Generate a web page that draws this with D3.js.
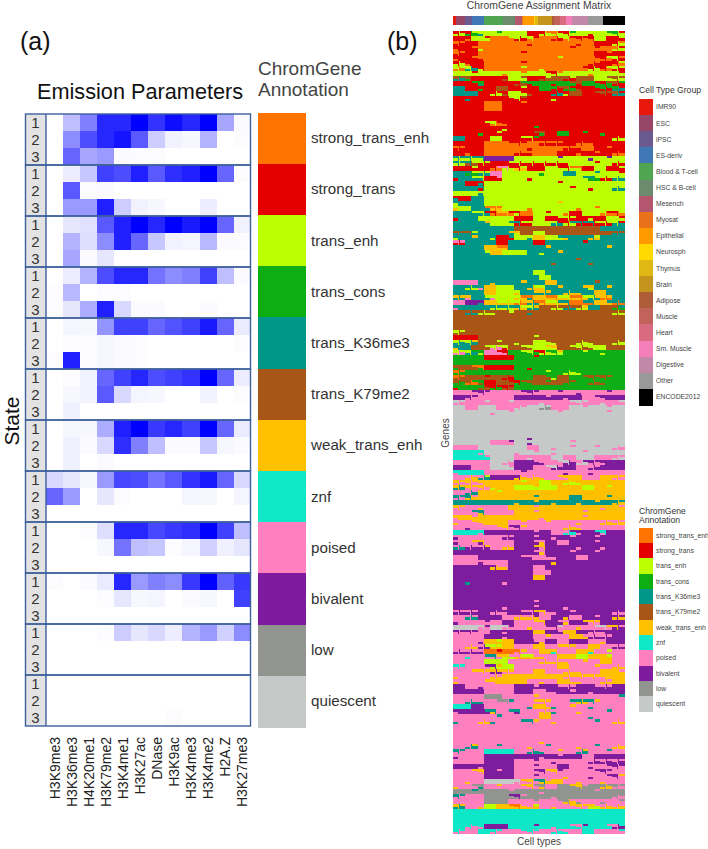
<!DOCTYPE html>
<html><head><meta charset="utf-8">
<script src="https://cdn.jsdelivr.net/npm/d3@7"></script>
<style>html,body{margin:0;padding:0;background:#fff}svg{display:block}text{font-family:"Liberation Sans",Arial,sans-serif}</style>
</head><body><div id="c"></div>
<script>
const marks=["H3K9me3","H3K36me3","H4K20me1","H3K79me2","H3K4me1","H3K27ac","DNase","H3K9ac","H3K4me3","H3K4me2","H2A.Z","H3K27me3"];
const annotations=["strong_trans_enh","strong_trans","trans_enh","trans_cons","trans_K36me3","trans_K79me2","weak_trans_enh","znf","poised","bivalent","low","quiescent"];
const annotationColors=["#ff7400","#e50000","#bcff00","#0cae12","#009688","#a85518","#ffc000","#10e8c8","#ff7fbf","#7d1a9d","#929490","#c5c9c8"];
const cellGroups=["IMR90","ESC","iPSC","ES-deriv","Blood & T-cell","HSC & B-cell","Mesench","Myosat","Epithelial","Neurosph","Thymus","Brain","Adipose","Muscle","Heart","Sm. Muscle","Digestive","Other","ENCODE2012"];
const cellColors=["#e8180c","#984668","#6a5a8f","#3f78b5","#50a552","#6b8a6e","#b5566f","#e8711a","#ff9b00","#ffd900","#dfb814","#c4941d","#af5c38","#c1635a","#d96b80","#f47fb8","#c288a8","#999999","#000000"];
const cellGroupCounts=[2,7,5,9,14,9,5,1,8,1,2,10,2,4,5,4,12,11,16];
const emission=[
[0,.25,.5,.85,.85,1,.8,.95,.85,1,.35,.02],[0,.45,.7,.85,.92,.65,.2,.05,.03,.3,0,.01],[0,.6,.35,.4,.02,.01,.01,0,0,0,0,0],
[0,.07,.22,.75,.7,.88,.65,.82,.88,1,.6,.01],[0,.65,.01,.02,0,0,0,0,0,0,0,0],[0,.4,.4,.88,.2,.05,.03,0,0,.07,0,0],
[0,.1,.12,.65,.88,1,.85,1,.9,1,.6,.05],[0,.3,.13,.45,.88,.6,.22,.05,.04,.28,.02,.01],[0,.35,.02,.1,0,0,0,0,0,0,0,0],
[0,.07,.3,.7,.85,.85,.55,.45,.5,.75,.25,.02],[.01,.28,0,.01,.01,0,0,0,0,0,0,0],[.01,.1,.32,.88,.15,.02,.02,0,0,.02,0,0],
[0,.04,.03,.42,.75,.75,.6,.68,.75,.9,.6,.08],[0,.01,.01,.03,.02,.01,0,0,0,0,0,.01],[.01,.88,.01,.03,.02,.01,0,0,0,0,0,0],
[0,.01,.05,.6,.75,.85,.7,.75,.8,1,.6,.07],[0,.03,.05,.65,.15,.04,.03,0,0,.05,0,.01],[0,.06,0,0,0,0,0,0,0,0,0,0],
[0,.03,.03,.32,.88,1,.78,.85,.75,1,.6,.08],[0,.06,.02,.15,.82,.5,.25,.02,.02,.22,.03,.02],[0,.06,0,.02,0,0,0,0,0,0,0,0],
[.15,.1,.03,.4,.72,.7,.55,.65,.8,.9,.6,.15],[.6,.4,0,.1,.01,0,0,0,.04,.03,0,.04],[0,0,0,0,0,0,0,0,0,0,0,0],
[0,0,.01,.13,.85,.85,.72,.78,.82,1,.75,.25],[0,0,0,.03,.55,.25,.22,.01,.04,.18,.06,.1],[0,0,0,0,0,0,0,0,0,0,0,0],
[.01,0,.02,.08,.85,.4,.5,.45,.78,1,.62,.78],[0,0,0,.01,.1,.03,.04,0,.02,.03,0,.75],[0,0,0,0,0,0,0,0,0,0,0,0],
[0,0,0,.01,.2,.1,.15,.07,.3,.4,.18,.45],[0,0,0,0,0,0,0,0,0,0,0,0],[0,0,0,0,0,0,0,0,0,0,0,0],
[0,0,0,0,0,0,0,0,0,0,0,0],[0,0,0,0,0,0,0,0,0,0,0,0],[0,0,0,0,0,0,0,.01,0,0,0,0]];
const stateCodes="ABCDEFGHIJKL";
const assignment=[
"CBDCECCDCCCCBBCACBCDCCBCCDCB","BBACCBAAACBCABAABCABABACCBBC","BABBAAAAAAAABAAAAAAABAABBBCA","ABBACAAAAAAAAAAAAAABAAABAACB",
"BABBAAAAAAABAAAAAAAAAAABBABB","ABBABAAAAAAAAAAAACAAAAABACBA","CBABBAAAAAABAAAAAAAAAABABBAC","ACEBCAAAAAACAACAAAAAABCBACBC",
"CCCBCCCCACCACCCBCACCCCACCCCB","EFDBBBBBFCCFBBFCFFBCFFFCCFCF","BBBDEBBBBBFDBDDDBDDFBDDBDFBD","EEBBDBBFFBBCBBDDBFDBFBBDBDEB",
"EEEEBBCBFCCBFBBBEBCFFBBFBFEB","BBEBBBBBBCBFBBBBCBBBBBBBBBBB","BBBBBAAABBBABBBBBBBBBBBBBBBB","BBBBBAAABBBBBBBBBBBBBBBBBBBB",
"BBBBBBBBBBBBBBBBBBBBBBBBBBBB","BBBBBBBBBBBBBBBBBBBBBBBBBBBB","BBBBBCABABBBBBBBBBBBBBBBBBBB","BBBBBBBBCBBBBDBBBBBBBBBBBBBB",
"BBBBDBBCBBBBBFDBBDDBBDBBDBBB","EEBBBBCCBBBCBDBBBBBBBBBBBBCB","BBBBBAAAABABAABABABBABABBBBB","BABBBAAAAAAABAAAAABABAABBABB",
"BBABBAAAAABABAAAABBBABBABBAB","CECECJJJJJCCCCCCCJCCCCJCCJCC","CEFCBCBBBCBCBCBCBCBCCCCBCCBC","BBBCBBAICBGCBBBCCBCACBBCCBBC",
"EEDCECIICCCCCCDCCCEECCCECCCB","BEECEBBICCCCBCCCCCCCCEDCBCEC","EEBBECCCCCCCCCCCCBCCCCCCCCCC","EEEEBCCCCCCCCCCCCCCBCCBCCCEC",
"CCCCECCCCCCCCCCCCCCCCCCCCCCC","EBBEECCCCCCCCCCCCCCCCCCCCCCC","CEEEECCCCCCCCCCCCGCCCCCCCCCC","GCCEEAGACCCCACCCCCCCACCACCCC",
"EEECEBAGABCAACCBCCABBCCCABAC","BEEECCCCCCBBBCCBBCBCBBCBBCCB","EEEEEGCCCEBCBCCCEBCEBEBCBCEB","EEEEEEEEEEFFFFFFFFFFFFFFEEEE",
"EFECEEEEEGCFFCCFFFFFFFFFFFEF","CEEGEECBBECCEGGCCEGEEEGCEEEE","BIEEEEEBBEEEEBBEEEEEEBEEEEEE","EEEEEGGAGEEEEEEGEEEEEEEEEGEE",
"EEEEECGGCCCCEECEEGEEEEEEEEEE","EEEEEEEEEEEEEEEEEEEEFEEEEEEE","EEEEEEEEEEEEEEEEFEEEEEFEEEEE","EEEEEEEEEEEEEEEEEEEEEEEEEEEE",
"EEEEEEEEEEEEECCEEEEEEEEEEEEE","EEEEEEEEEEEEEECCEEEEEEEEEEEE","IIIIEEGEEEEGEEEGGEEEEEEFEEEE","EECEIGGCCCEEGCGEEGEEEGCEEGEE",
"EEEEEGGCCCGEEGEGEEGEGEEGGEEE","EGIEECICCCGAEGGAGCGAGCEGAGEE","IIJJEGGCGCAGEAGCGEGAAEAGGEAE","IEEEEECECEGCEGFFCFEFCGEEFFDE",
"FFEFCFCFFCFFEFFFFFFFFFFFFFCF","FFFFFFFFFFFFFFFFFFFFFFFFFFFF","FFFFFFFFFFFFFFFFFFFFFFFFFFFF","FFFFFFFFFFFFFFFFFFFFFFFFFFFF",
"FCFFFFFFFFFFFFFFFFFFFFFFFFFF","BBBBFFFFFFFFFCFFFFFFFFFFFFFF","ECEGFFFCFFCFFCCFCFFFCFCFFFCF","GEEFFCICBFFCFCCGCFFCFCFCCFFF",
"ICEDCIIBIDDCDBCDCGDDDCDDCDDD","DDDDDBBBBBDDDBDDDDDDDDDDDDDD","DDDDDDDDDDDDDDDDDDDDDDDDDDDD","DFFADBBBBBDDBDDDDDDDDDDDDDDD",
"DADDDDDDDDDDDDDCDDCDCDDDDDDD","FAFFFBFFBFDDDFFDCFFDDFDFDFDD","DFADFBBFFBDFDFFDFFDFDDFDFDDD","BDDDFBDBFBDDDDDDDDDDDDDDDDDD",
"IIIJIJIIIIIJIJIIIJIIJIIIIJII","JJIJIIIIIIJJJJJIJJIJJIIJIJJJ","ILIIILIIILIIIILIIIILILIILIIL","LLIILLLIIILILLKLIIILLILLLILL",
"LLLLLLILLILLLLLLLILLLLLLLILL","LLLLLLLLLLLLLLLLLLLLLLLLLLLL","LLLLLLLLLLLLLLLLLLLLLLLLLLLL","LLLLLLLLLLLLLLLLLLLLLLLLLLLL",
"LLLLLLLLLLLLLLLLLLLLLLLLLLLL","LLLLLLLLLLLLJLLLLLLLLLLLLLLL","LLLLLLIIIJLLJLLLLLLILLLLLLLL","IIIILLLLLLLLIILLILLILLLILLIL",
"HHHHILLLLLILLILLILLLLILLLLLL","HHHHHILLLLIILIIILLIILLLIIILI","IIIIIILLILJJJIJIILJILJIJIJJJ","JJJIIILLLIJJJIILJIJJIIJIJJJJ",
"IHHHHIIIIIIJIIIIIIJIIIJIIIII","IIGIECJJJJGIGIGIIGIGGIIIGGIG","IGIGIGGGGGGCGGCCGGCGCGGGGGGG","EGIGIGCGGGCCCGCCCGGGGCCGGCGG",
"IIEIGGGCGGGGGGGGGGGGGGGGGGGG","IEGIGGGGGGGGGEGGGGGEEGGGGEGG","EEEEEEEEEEGEEGEEGEEEGEEGEEGE","IGIIGIIIIGGGGIGGGGGGGGGGIGGI",
"IIIEGIIIIIGGGIGGGGGGGIGGGGGG","IGGIGGGGGGGGGGIGGGGGGIGGGGGG","GIIGIGGGGIIGIIIGIIIIGIIIGIGI","IIJIIIIGIJIGIIIIIIGIGIIIIIII",
"HHHHIJJJJJJJJIJJIIHJIJJHIJJJ","JIIIIIIIJIJJJIJJIJJIJJJIJJJJ","JIIGJIIIIIJJJIGJJIIJJJJIJJJJ","EIJIJGIIGIJJJGIJJJJJIJJJIJJJ",
"JJJJJJJJJJJJJIGJJJJIJJJIJJJJ","IIIIJJJJJJJIJIIJIJJJIIJJJJJJ","IIIIJIIIIJJJJJJJGJJJJJJJJJJJ","JJJJJJGIGJJJJIIJJJJJJJJJJJJJ",
"JJJJJJJJJJJJJIIIJJJJJJJJJJJJ","JJJJJJJJJJJJJGGJJJJJJJJJJJJJ","JJEJJJJJIJJJJJJJJJJJJJJJJJJJ","JJJJJJJJJJJJJJJJJJJJJJJJJJJJ",
"JJJJJJJJJJJJJJJJJJJJJJJJJJJJ","JJJJJJJJJJJJJJJJJJJJJJJJJJJJ","JJJJJJJJJJJJJIJJJJJJJJJJJJJJ","JJJJJJJJIJJJJIJJJJIJJJJJJJJJ",
"JIJIJJIJIJJIJGIJIJJIJJJJJJIJ","IIEIJJJJIIGIGJIIJJGIIJJIJJGJ","JIIIIJIIJJIIIGIJJIGJJGIGJJJJ","LLLLIJLLIJIIGIIJILIIGIILIGJI",
"IJIJIIJJIJJJJGGJJIGGJJIJIJJJ","IIIIIJJJIJJJJIIGIIIGGIJIJIJJ","IIIIJGGCGGJJJIGJJIIJJJIIGJJJ","IIGIJCGCGGIIIGGIIGIGIIGGIIJI",
"JIJIJAABAAIGIIGGHIIIGGHIICII","IIHIIEIGCIGCGIGIIGGGCCGGGCII","IIIIICCCCIIIIIGIGIGIIGIIGGII","IHIIIJCGCCIIIIIIIGGIIIIGIIGI",
"IIIGIGJGIGIIIGGIIIGIGIIIGGGI","GIIIIIGIGGGGGGGGGGIGIGIGIGGG","GIIIIGIGGGGGIIGIIGGIGIIIGIGG","JJIIJIIIIIJJJIJJJIJIJJJIJIJJ",
"JJJJJIIIIIJJJIIJIJJIJJIJJJJJ","IIIIIKKKIIIIIGIIIIIIIIIIIIIE","IIEIEIIKIEIIIGIGIIIEGEIGIIII","HHHJJIIIIIIIEGGIEIIGIIEIIIII",
"IJJJJEGIIEJIIIGIEIIIGIIIIEII","IIIIIIIEIIIIIIGGIIIIIIEIIIII","EIIIGIEIIIIEIGIIGIIIIIIEIIGI","IIIIIIIIIIIIIIIIIIIIIIIIIIII",
"IIIIIIIIIIIIIIIIIIIIIIIIIIII","IIIIIIIIIIIIIIIIIIIIIIIIIIII","IIIIIIIIIIIIIIGIIIIIIIIIIIII","IIEGIIIEIIIIGIIEIIIIGIIEIIGI",
"IEIIIHHHHHIIEIEIIGIIEGIIIEII","JIIIIJJJJJJJJJIJJIJJJIIJJJJJ","IIIIIJJJJJIIIJIIJIIIIIJIJIJI","JJJJIJJJJJIIIJIIIJJIIIJIIJIJ",
"IIIGIJJIJJIIIJIGIJIIIIIJIJII","IIIIIJJJJJIIIJIIIIGIIIJIIJIG","IIGIILLLLLIGIEGIGGIIGIIIGIII","GIIKEIIGIIIGIKGIIKKGKIKKGKIK",
"KKKEKKKKKIKKKKIKKKKKKKKIKKKK","IEIIIKKKKJKIKKKKIKKKKKKKKKIK","IIIIIKKKKIIIIKIIIKGIKIIIKIIK","EGIIGCCGGAGIGCIIGIIGIGCIGIGI",
"HHHHHHHHHHHHHHHHHHHHHHHHHHHH","HHHHHHHHHHHHHHHHHHHHHHHHHHHH","HHHHHHHHHHHHHHHHHHHHHHHHHHHH","HHIHIJJJJHHHHJHHIHHIHJHHHIJH",
"IHIIHHIHIIIHIHIIHIHIIHHIIIIH"];

const svg=d3.select("#c").append("svg").attr("width",708).attr("height",849);
const defs=svg.append("defs");
defs.append("filter").attr("id","soft").attr("x",0).attr("y",0).attr("width",1).attr("height",1)
  .append("feGaussianBlur").attr("stdDeviation",0.45);
const txt=(s,x,y,size,fill,anchor)=>svg.append("text").attr("x",x).attr("y",y).attr("font-size",size).attr("fill",fill||"#222").attr("text-anchor",anchor||"start").text(s);

// ---- panel (a)
txt("(a)",20,50,25,"#111");
txt("(b)",387,50,25,"#111");
txt("Emission Parameters",37,99,21.7,"#111");
txt("ChromGene",258,75,19,"#444");
txt("Annotation",258,96,19,"#444");
svg.append("text").attr("transform","translate(19,421) rotate(-90)").attr("font-size",21).attr("text-anchor","middle").attr("fill","#111").text("State");

const rowIdx=d3.range(emission.length);
const xE=d3.scaleBand().domain(marks).range([46,250.7]);
const yE=d3.scaleBand().domain(rowIdx).range([114,726]);
const blue=d3.scaleLinear().domain([0,1]).range(["#ffffff","#0000ff"]);
const gE=svg.append("g").attr("shape-rendering","crispEdges");
emission.forEach((row,r)=>{
  gE.selectAll(null).data(row).join("rect")
    .attr("x",(d,i)=>xE(marks[i])).attr("y",yE(r)).attr("width",xE.bandwidth()+.5).attr("height",yE.bandwidth()+.5).attr("fill",d=>blue(d));
});
svg.append("rect").attr("x",25).attr("y",114).attr("width",21).attr("height",612).attr("fill","#e3e3e3");
svg.selectAll(null).data(rowIdx).join("text").attr("x",35.5).attr("y",r=>yE(r)+yE.bandwidth()/2+5.5)
  .attr("font-size",15).attr("text-anchor","middle").attr("fill","#333").text(r=>r%3+1);
const yG=d3.scaleBand().domain(annotations).range([114,726]);
svg.selectAll(null).data(annotations).join("rect").attr("x",25.5).attr("y",d=>yG(d)).attr("width",225).attr("height",yG.bandwidth())
  .attr("fill","none").attr("stroke","#3d5f9c").attr("stroke-width",1.4);
svg.append("line").attr("x1",46).attr("x2",46).attr("y1",114).attr("y2",726).attr("stroke","#3d5f9c").attr("stroke-width",1.4);
svg.selectAll(null).data(marks).join("text")
  .attr("transform",d=>`translate(${xE(d)+xE.bandwidth()/2+5},737) rotate(-90)`)
  .attr("text-anchor","end").attr("font-size",14).attr("fill","#222").text(d=>d);
const yA=d3.scaleBand().domain(annotations).range([112.7,727]);
svg.append("g").attr("shape-rendering","crispEdges").selectAll("rect").data(annotations).join("rect")
  .attr("x",258).attr("width",48).attr("y",d=>yA(d)).attr("height",yA.bandwidth()+.5).attr("fill",(d,i)=>annotationColors[i]);
svg.selectAll(null).data(annotations).join("text").attr("x",311).attr("y",d=>yA(d)+yA.bandwidth()/2+5)
  .attr("font-size",15.2).attr("fill","#333").text(d=>d);

// ---- panel (b)
txt("ChromGene Assignment Matrix",539,8.5,10.4,"#444","middle");
const cum=d3.cumsum(cellGroupCounts), total=cum[cum.length-1];
const xBar=d3.scaleLinear().domain([0,total]).range([453,624.6]);
svg.append("g").attr("shape-rendering","crispEdges").selectAll("rect").data(cellGroups).join("rect")
  .attr("x",(d,i)=>xBar(i?cum[i-1]:0)).attr("y",16).attr("height",9)
  .attr("width",(d,i)=>xBar(cum[i])-xBar(i?cum[i-1]:0)).attr("fill",(d,i)=>cellColors[i]);
const nCols=assignment[0].length;
const xM=d3.scaleBand().domain(d3.range(nCols)).range([453,624.6]);
const yM=d3.scaleBand().domain(d3.range(assignment.length)).range([31,834]);
const stateColor=d3.scaleOrdinal().domain(stateCodes.split("")).range(annotationColors);
const gM=svg.append("g").attr("filter","url(#soft)").append("g").attr("shape-rendering","crispEdges");
assignment.forEach((row,r)=>{
  const cells=row.split("");
  // a lone cell is a thin streak over its neighbour's colour, as in the dense source matrix
  const lone=(s,c)=>(c===0||cells[c-1]!==s)&&(c===cells.length-1||cells[c+1]!==s);
  gM.selectAll(null).data(cells).join("rect")
    .attr("x",(d,c)=>xM(c)).attr("y",yM(r)).attr("width",xM.bandwidth()+.4).attr("height",yM.bandwidth()+.4)
    .attr("fill",(d,c)=>stateColor(lone(d,c)?(c>0?cells[c-1]:cells[c+1]):d));
  gM.selectAll(null).data(cells.map((s,c)=>({s,c})).filter(o=>lone(o.s,o.c))).join("rect")
    .attr("x",o=>xM(o.c)+(o.c%2)).attr("width",xM.bandwidth()-1)
    .attr("y",o=>yM(r)+(o.c%2?0:yM.bandwidth()*.55)).attr("height",yM.bandwidth()*.45)
    .attr("fill",o=>stateColor(o.s));
});
svg.append("text").attr("transform","translate(449,433) rotate(-90)").attr("font-size",10).attr("text-anchor","middle").attr("fill","#444").text("Genes");
txt("Cell types",539,845,10,"#444","middle");

txt("Cell Type Group",639,93,8.6,"#333");
const yL1=d3.scaleBand().domain(cellGroups).range([99,405]);
svg.append("g").attr("shape-rendering","crispEdges").selectAll("rect").data(cellGroups).join("rect")
  .attr("x",639).attr("width",14).attr("y",d=>yL1(d)).attr("height",yL1.bandwidth()+.5).attr("fill",(d,i)=>cellColors[i]);
svg.selectAll(null).data(cellGroups).join("text").attr("x",656).attr("y",d=>yL1(d)+yL1.bandwidth()/2+2.4).attr("font-size",6.8).attr("fill","#444").text(d=>d);

txt("ChromGene",639,514,8.6,"#333");
txt("Annotation",639,523,8.6,"#333");
const yL2=d3.scaleBand().domain(annotations).range([527.7,711.7]);
svg.append("g").attr("shape-rendering","crispEdges").selectAll("rect").data(annotations).join("rect")
  .attr("x",639).attr("width",14).attr("y",d=>yL2(d)).attr("height",yL2.bandwidth()+.5).attr("fill",(d,i)=>annotationColors[i]);
svg.selectAll(null).data(annotations).join("text").attr("x",656).attr("y",d=>yL2(d)+yL2.bandwidth()/2+2.4).attr("font-size",6.8).attr("fill","#444").text(d=>d);
</script></body></html>
